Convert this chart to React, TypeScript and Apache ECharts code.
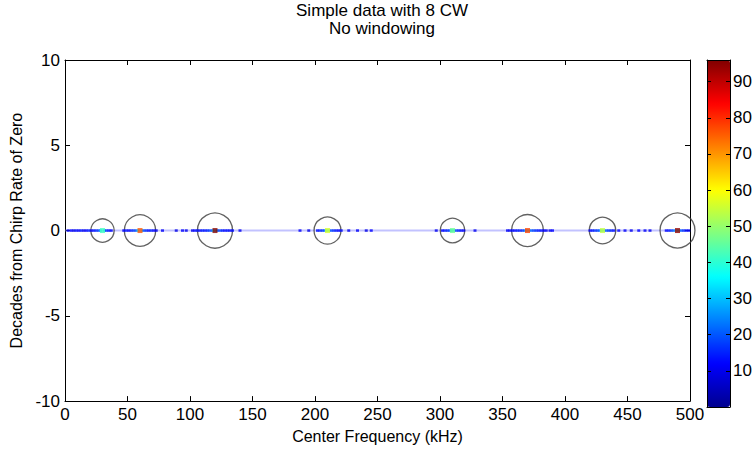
import React, { useEffect, useRef } from "react";
import * as echarts from "echarts";

// Peak (CW) components: center frequency (kHz) and magnitude (colour value)
const peakFreqs = [30, 60, 120, 210, 310, 370, 430, 490];
const peakValues = [42, 76, 95, 56, 46, 78, 54, 94];

// Side-lobe detections along the zero chirp-rate line: frequency (kHz) and magnitude
const lobeFreqs = [
  2.5, 5, 7, 9, 11, 13, 15, 17, 19, 21, 23, 25, 27, 28.5, 31.5, 33, 35, 37,
  47, 49, 51, 53, 55, 57, 58.5, 61.5, 63, 65, 67, 69, 71, 73, 78, 89, 94, 97,
  102, 104, 106, 108, 110, 112, 114, 116, 118, 119, 121, 122, 124, 126, 128, 130, 132, 134, 140,
  188, 195, 202, 204, 206, 208, 209, 211, 213, 215, 217, 219, 221, 227, 234, 241, 245,
  297, 302, 304, 306, 308, 309, 311, 313, 315, 317, 319, 328,
  354, 356, 358, 360, 362, 364, 366, 368, 369, 371, 373, 375, 377, 379, 381, 383, 385, 388, 390,
  420, 422, 424, 426, 428, 429, 431, 433, 435, 437, 439, 443, 448, 453, 459, 464, 468,
  481, 483, 485, 487, 489, 491, 493, 495, 497, 499,
];
const lobeValues = [
  10, 12, 9, 13, 11, 14, 10, 12, 15, 11, 13, 16, 18, 30, 30, 17, 14, 11,
  12, 14, 11, 15, 17, 20, 34, 34, 19, 16, 13, 15, 12, 10, 11, 9, 12, 10,
  10, 12, 14, 11, 15, 13, 16, 18, 22, 36, 36, 21, 17, 15, 12, 14, 11, 13, 10,
  11, 9, 13, 15, 17, 20, 35, 35, 19, 16, 14, 12, 13, 10, 11, 9, 12,
  10, 12, 14, 16, 19, 30, 30, 18, 15, 13, 11, 10,
  11, 10, 13, 12, 15, 14, 17, 20, 35, 35, 21, 18, 16, 14, 13, 12, 11, 10, 12,
  12, 14, 16, 18, 22, 32, 32, 20, 17, 15, 13, 12, 11, 10, 12, 11, 10,
  12, 14, 17, 21, 36, 36, 20, 16, 13, 11,
];

// Axis tick definitions
const xMin = 0;
const xMax = 500;
const xStep = 50;
const yMin = -10;
const yMax = 10;
const yStep = 5;
const cMin = 0;
const cMax = 96;
const cStep = 10;

const jet = [
  "#00008f",
  "#0000ff",
  "#0080ff",
  "#00ffff",
  "#80ff80",
  "#ffff00",
  "#ff8000",
  "#ff0000",
  "#800000",
];

const FONT = "'Liberation Sans', Arial, Helvetica, sans-serif";
const FS = 17;
const NAME_FS = 16;

export default function App() {
  const ref = useRef<HTMLDivElement>(null);

  useEffect(() => {
    if (!ref.current) return;
    const chart = echarts.init(ref.current, null, { renderer: "svg" });

    const lineData = [
      [xMin, 0],
      [xMax, 0],
    ];
    const circleData = peakFreqs.map((f, i) => [f, 0, peakValues[i]]);
    const lobeData = lobeFreqs.map((f, i) => [f, 0, lobeValues[i]]);
    const centerData = peakFreqs.map((f, i) => [f, 0, peakValues[i]]);

    const tickLabel = { fontFamily: FONT, fontSize: FS, color: "#000" };
    const axisLine = { show: true, onZero: false, lineStyle: { color: "#000", width: 1 } };
    const tickIn = { show: true, inside: true, length: 5, lineStyle: { color: "#000" } };

    chart.setOption({
      animation: false,
      backgroundColor: "#fff",
      textStyle: { fontFamily: FONT },
      title: {
        text: "Simple data with 8 CW\nNo windowing",
        left: 377,
        textAlign: "center",
        top: -4,
        textStyle: {
          fontFamily: FONT,
          fontSize: FS,
          fontWeight: "normal",
          color: "#000",
          lineHeight: 18,
        },
      },
      grid: [
        { left: 65, top: 60, width: 625, height: 347 },
        { left: 707, top: 60, width: 23, height: 347 },
      ],
      visualMap: {
        type: "continuous",
        min: cMin,
        max: cMax,
        dimension: 2,
        seriesIndex: [2, 3],
        inRange: { color: jet },
        calculable: false,
        left: 707,
        top: 60,
        itemWidth: 23,
        itemHeight: 347,
        padding: 0,
        borderWidth: 0,
        hoverLink: false,
      },
      xAxis: [
        {
          gridIndex: 0,
          type: "value",
          min: xMin,
          max: xMax,
          interval: xStep,
          position: "bottom",
          axisLine,
          axisTick: tickIn,
          splitLine: { show: false },
          axisLabel: { ...tickLabel, margin: 5 },
          name: "Center Frequency (kHz)",
          nameLocation: "middle",
          nameGap: 23,
          nameTextStyle: { fontFamily: FONT, fontSize: NAME_FS, color: "#000" },
        },
        {
          gridIndex: 0,
          type: "value",
          min: xMin,
          max: xMax,
          interval: xStep,
          position: "top",
          axisLine,
          axisTick: tickIn,
          splitLine: { show: false },
          axisLabel: { show: false },
        },
        {
          gridIndex: 1,
          type: "value",
          min: 0,
          max: 1,
          position: "bottom",
          z: 10,
          axisLine,
          axisTick: { show: false },
          splitLine: { show: false },
          axisLabel: { show: false },
        },
        {
          gridIndex: 1,
          type: "value",
          min: 0,
          max: 1,
          position: "top",
          z: 10,
          axisLine,
          axisTick: { show: false },
          splitLine: { show: false },
          axisLabel: { show: false },
        },
      ],
      yAxis: [
        {
          gridIndex: 0,
          type: "value",
          min: yMin,
          max: yMax,
          interval: yStep,
          position: "left",
          axisLine,
          axisTick: tickIn,
          splitLine: { show: false },
          axisLabel: { ...tickLabel, margin: 5 },
          name: "Decades from Chirp Rate of Zero",
          nameLocation: "middle",
          nameGap: 29,
          nameTextStyle: { fontFamily: FONT, fontSize: NAME_FS, color: "#000" },
        },
        {
          gridIndex: 0,
          type: "value",
          min: yMin,
          max: yMax,
          interval: yStep,
          position: "right",
          axisLine,
          axisTick: tickIn,
          splitLine: { show: false },
          axisLabel: { show: false },
        },
        {
          gridIndex: 1,
          type: "value",
          min: cMin,
          max: cMax,
          interval: cStep,
          position: "right",
          z: 10,
          axisLine,
          axisTick: { show: true, inside: true, length: 4, lineStyle: { color: "#000" } },
          splitLine: { show: false },
          axisLabel: {
            ...tickLabel,
            margin: 3,
            showMaxLabel: false,
            showMinLabel: false,
            formatter: (v: number) => (v > 0 && v < cMax ? String(v) : ""),
          },
        },
        {
          gridIndex: 1,
          type: "value",
          min: cMin,
          max: cMax,
          interval: cStep,
          position: "left",
          z: 10,
          axisLine,
          axisTick: { show: true, inside: true, length: 4, lineStyle: { color: "#000" } },
          splitLine: { show: false },
          axisLabel: { show: false },
        },
      ],
      series: [
        {
          type: "line",
          xAxisIndex: 0,
          yAxisIndex: 0,
          data: lineData,
          symbol: "none",
          lineStyle: { color: "rgba(120,120,255,0.45)", width: 2 },
          silent: true,
          z: 1,
        },
        {
          type: "scatter",
          xAxisIndex: 0,
          yAxisIndex: 0,
          data: circleData,
          symbol: "circle",
          symbolSize: (d: number[]) => 3.6 * Math.sqrt(d[2]),
          itemStyle: { color: "rgba(0,0,0,0)", borderColor: "#3a3a3a", borderWidth: 1.3 },
          silent: true,
          z: 2,
        },
        {
          type: "scatter",
          xAxisIndex: 0,
          yAxisIndex: 0,
          data: lobeData,
          symbol: "rect",
          symbolSize: [3, 2.5],
          silent: true,
          z: 3,
        },
        {
          type: "scatter",
          xAxisIndex: 0,
          yAxisIndex: 0,
          data: centerData,
          symbol: "rect",
          symbolSize: [5, 5],
          silent: true,
          z: 4,
        },
      ],
    });

    return () => chart.dispose();
  }, []);

  return <div ref={ref} style={{ width: 755, height: 449, position: "absolute", left: 0, top: 0 }} />;
}
